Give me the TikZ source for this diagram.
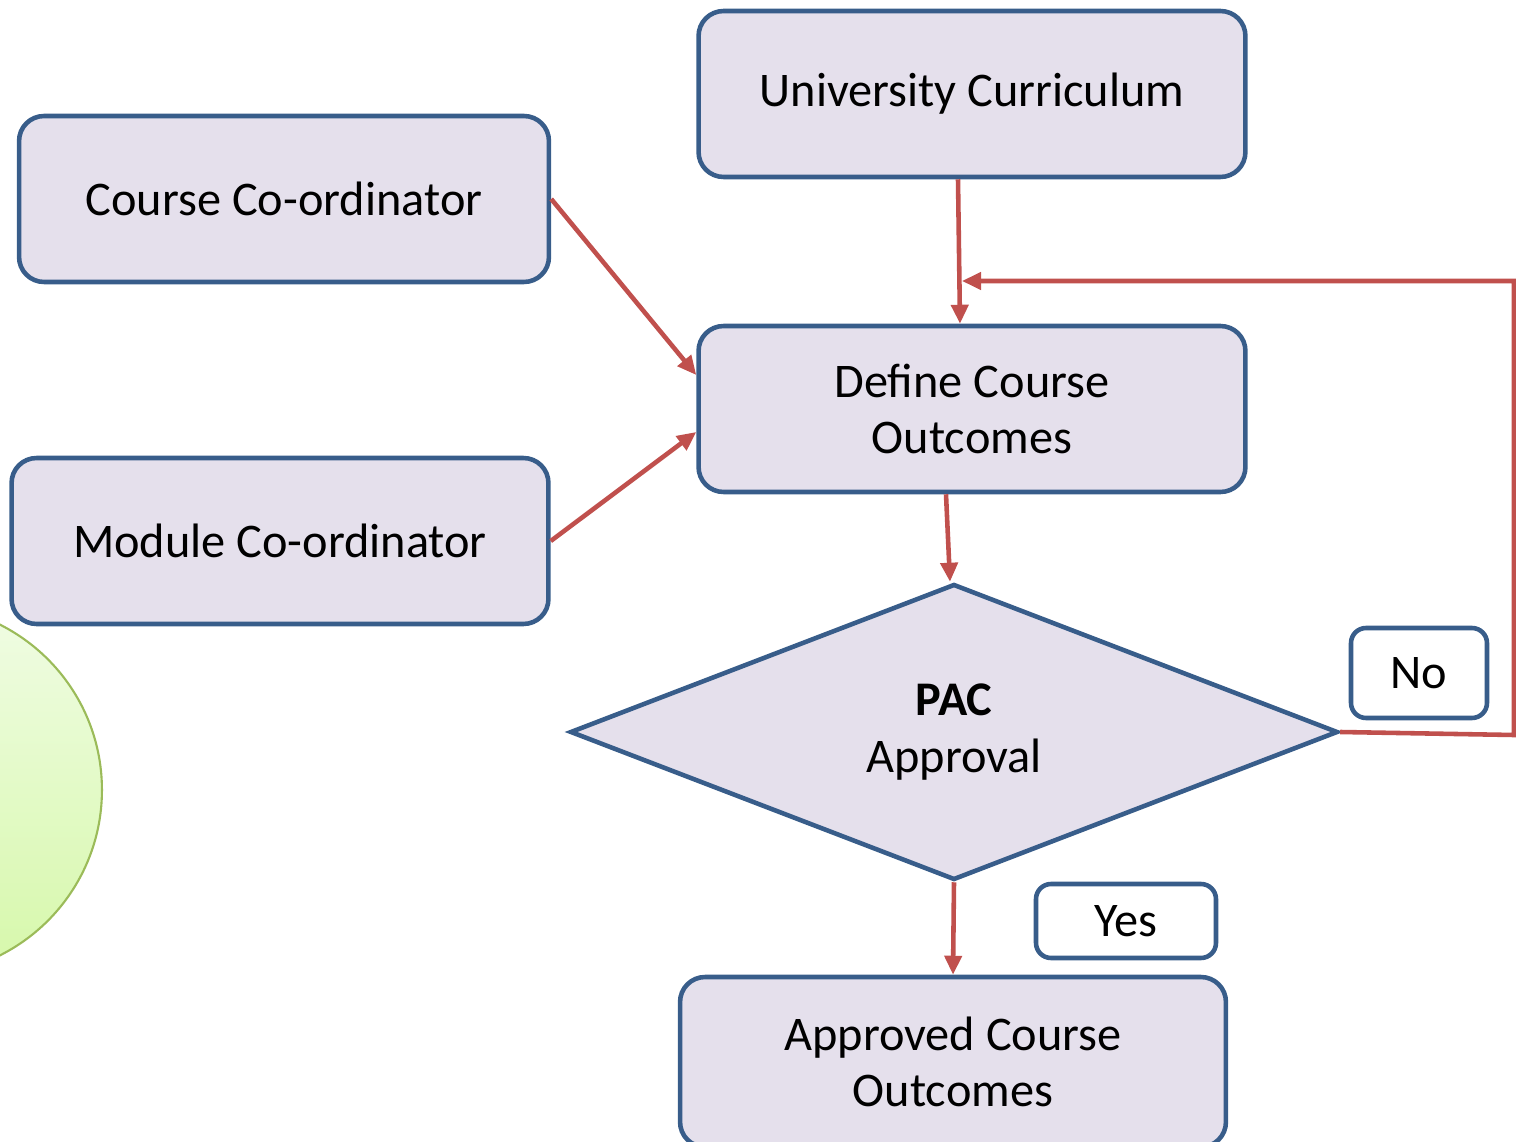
\documentclass[tikz,border=0pt]{standalone}
\usepackage{fontspec}
\setmainfont{Carlito}
\usetikzlibrary{shapes.geometric,arrows.meta,positioning,calc}
\definecolor{boxline}{RGB}{56,93,138}
\definecolor{boxfill}{RGB}{229,224,236}
\definecolor{flowred}{RGB}{192,80,77}
\definecolor{leafline}{RGB}{155,187,89}
\definecolor{leaftop}{RGB}{240,252,228}
\definecolor{leafbot}{RGB}{214,248,170}

\begin{document}
\begin{tikzpicture}[
    x=0.02cm, y=-0.02cm,
    stage/.style={rectangle, draw=boxline, fill=boxfill, line width=2.6pt, rounded corners=0.5cm, minimum width=10.94cm, minimum height=3.32cm, align=center, font=\fontsize{27.5}{32}\selectfont},
    decision/.style={diamond, draw=boxline, fill=boxfill, line width=2.6pt, minimum width=15.36cm, minimum height=5.92cm, inner sep=0pt, align=center, font=\fontsize{27.5}{32}\selectfont},
    tag/.style={rectangle, draw=boxline, fill=white, line width=2.6pt, rounded corners=0.3cm, font=\fontsize{27.5}{32}\selectfont},
    flow/.style={draw=flowred, line width=2.6pt, -{Triangle[length=0.38cm,width=0.34cm]}}
]
    \useasboundingbox (0,0) rectangle (1516,1142);
    \clip (0,0) rectangle (1516,1142);

    % cut-off circle on the left
    \draw[leafline, line width=1.2pt, top color=leaftop, bottom color=leafbot] (-83,790) circle[radius=3.7cm];

    \node[stage] (uc) at (972,94) {University Curriculum};
    \node[stage, minimum width=10.6cm] (cc) at (284,199) {Course Co-ordinator};
    \node[stage, minimum width=10.74cm] (mc) at (280,541) {Module Co-ordinator};
    \node[stage] (dco) at (972,409) {Define Course\\Outcomes};
    \node[decision] (pac) at (954,732) {\textbf{PAC}\\Approval};
    \node[tag, minimum width=2.72cm, minimum height=1.8cm] (no) at (1419,673) {No};
    \node[tag, minimum width=3.6cm, minimum height=1.48cm] (yes) at (1126,921) {Yes};
    \node[stage, minimum width=10.92cm, minimum height=3.4cm] (aco) at (953,1062) {Approved Course\\Outcomes};

    \coordinate (merge) at (962,281);

    \draw[flow] ([xshift=-0.28cm]uc.south) -- ([xshift=-0.24cm]dco.north);
    \draw[flow] (cc.east) -- ([yshift=0.68cm]dco.west);
    \draw[flow] (mc.east) -- ([yshift=-0.46cm]dco.west);
    \draw[flow] ([xshift=-0.52cm]dco.south) -- ([xshift=-0.08cm]pac.north);
    \draw[flow] (pac.south) -- (aco.north);
    \draw[flow] (pac.east) -- (1514,735) -- (1514,281) -- (merge);
\end{tikzpicture}
\end{document}
